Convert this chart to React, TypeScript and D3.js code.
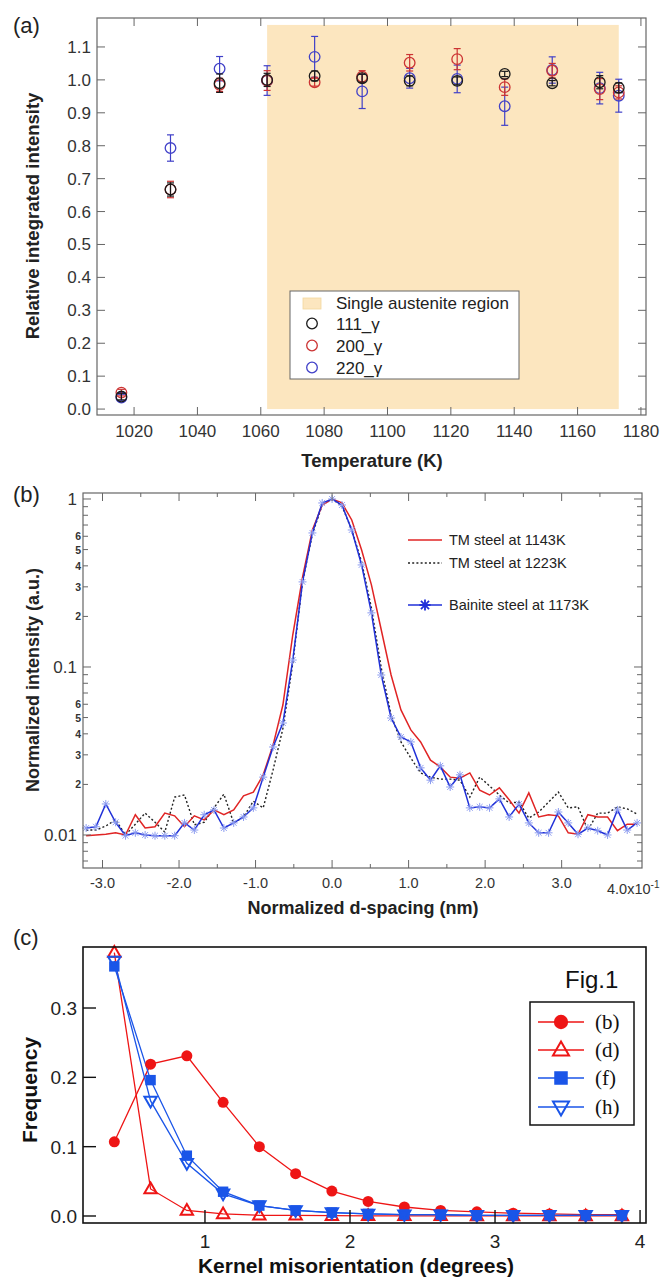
import React from 'react';
import * as d3 from 'd3';

// ---------- Panel (a) data ----------
const temperatures = [1016, 1031.5, 1047, 1062, 1077, 1092, 1107, 1122, 1137, 1152, 1167, 1173];
const int111 = [0.038, 0.667, 0.99, 1.0, 1.012, 1.005, 0.997, 0.997, 1.018, 0.99, 0.993, 0.976];
const err111 = [0.01, 0.02, 0.028, 0.02, 0.015, 0.012, 0.015, 0.012, 0.008, 0.008, 0.02, 0.015];
const int200 = [0.05, 0.667, 0.985, 0.998, 0.993, 1.01, 1.052, 1.063, 0.978, 1.028, 0.972, 0.962];
const err200 = [0.01, 0.025, 0.02, 0.03, 0.012, 0.018, 0.025, 0.032, 0.025, 0.022, 0.032, 0.02];
const int220 = [0.035, 0.793, 1.034, 0.998, 1.07, 0.965, 1.005, 1.003, 0.92, 1.03, 0.975, 0.952];
const err220 = [0.01, 0.04, 0.037, 0.045, 0.062, 0.052, 0.03, 0.042, 0.058, 0.04, 0.048, 0.05];
const austeniteRange = [1062, 1173];
const austeniteTop = 1.167;
const xTicksA = [1020, 1040, 1060, 1080, 1100, 1120, 1140, 1160, 1180];
const yTicksA = [0, 0.1, 0.2, 0.3, 0.4, 0.5, 0.6, 0.7, 0.8, 0.9, 1.0, 1.1];

// ---------- Panel (b) data ----------
const dSpacing = [
  -3.214, -3.086, -2.957, -2.829, -2.7, -2.571, -2.443, -2.314, -2.186, -2.057,
  -1.929, -1.8, -1.671, -1.543, -1.414, -1.286, -1.157, -1.029, -0.9, -0.771,
  -0.643, -0.514, -0.386, -0.257, -0.129, 0,
  0.129, 0.257, 0.386, 0.514, 0.643, 0.771, 0.9, 1.029, 1.157, 1.286,
  1.414, 1.543, 1.671, 1.8, 1.929, 2.057, 2.186, 2.314, 2.443, 2.571,
  2.7, 2.829, 2.957, 3.086, 3.214, 3.343, 3.471, 3.6, 3.729, 3.857, 3.986,
];
const tm1143 = [
  0.0099, 0.01, 0.0101, 0.0103, 0.01, 0.0132, 0.011, 0.0112, 0.0135, 0.013,
  0.0112, 0.013, 0.0123, 0.0141, 0.0132, 0.0141, 0.0171, 0.018, 0.0228, 0.0343,
  0.0594, 0.155, 0.343, 0.654, 0.921, 1.0,
  0.947, 0.75, 0.497, 0.308, 0.166, 0.0896, 0.0555, 0.0422, 0.0358, 0.0279,
  0.0254, 0.0221, 0.0218, 0.0234, 0.0185, 0.0173, 0.0191, 0.0162, 0.0135, 0.0178,
  0.0128, 0.0132, 0.013, 0.0103, 0.0101, 0.0132, 0.0128, 0.0128, 0.0106, 0.0116, 0.0116,
];
const tm1223 = [
  0.0107, 0.0107, 0.0113, 0.0123, 0.01, 0.0116, 0.0135, 0.0119, 0.0104, 0.0168,
  0.0173, 0.0115, 0.0119, 0.0145, 0.0175, 0.0118, 0.0128, 0.0159, 0.0145, 0.0244,
  0.043, 0.105, 0.321, 0.619, 0.921, 1.0,
  0.909, 0.654, 0.422, 0.2245, 0.0986, 0.0518, 0.0358, 0.0287, 0.0234, 0.0221,
  0.0215, 0.0215, 0.0212, 0.0168, 0.0221, 0.0196, 0.0173, 0.0155, 0.0157, 0.0126,
  0.0137, 0.0157, 0.018, 0.0145, 0.0147, 0.0107, 0.0135, 0.0135, 0.0147, 0.0143, 0.0133,
];
const bainite1173 = [
  0.011, 0.0112, 0.0153, 0.0119, 0.0099, 0.0103, 0.01, 0.0099, 0.0099, 0.0099,
  0.0118, 0.0107, 0.0132, 0.0141, 0.011, 0.0118, 0.0128, 0.0145, 0.0221, 0.0334,
  0.0464, 0.11, 0.321, 0.628, 0.947, 1.0,
  0.921, 0.654, 0.405, 0.21, 0.0896, 0.0497, 0.0383, 0.0358, 0.0251, 0.0212,
  0.0258, 0.0193, 0.0228, 0.0145, 0.0147, 0.0145, 0.0164, 0.0128, 0.0153, 0.0118,
  0.0103, 0.0103, 0.0137, 0.0118, 0.0101, 0.011, 0.0106, 0.01, 0.0141, 0.0107, 0.0118,
];
const xMajorB = [-3, -2, -1, 0, 1, 2, 3];
const xMajorLabelsB = ['-3.0', '-2.0', '-1.0', '0.0', '1.0', '2.0', '3.0'];
const xMinorB = [-2.5, -1.5, -0.5, 0.5, 1.5, 2.5, 3.5];
const yMajorB = [0.01, 0.1, 1];
const yMajorLabelsB = ['0.01', '0.1', '1'];
const yMinorB = [0.007, 0.008, 0.009, 0.02, 0.03, 0.04, 0.05, 0.06, 0.07, 0.08, 0.09, 0.2, 0.3, 0.4, 0.5, 0.6, 0.7, 0.8, 0.9];
const yMinorLabeledB = [0.02, 0.03, 0.04, 0.05, 0.06, 0.2, 0.3, 0.4, 0.5, 0.6];
const yMinorLabelTextB = ['2', '3', '4', '5', '6', '2', '3', '4', '5', '6'];

// ---------- Panel (c) data ----------
const kernelMis = [0.375, 0.625, 0.875, 1.125, 1.375, 1.625, 1.875, 2.125, 2.375, 2.625, 2.875, 3.125, 3.375, 3.625, 3.875];
const freqB = [0.107, 0.219, 0.231, 0.164, 0.1, 0.061, 0.036, 0.021, 0.013, 0.008, 0.006, 0.004, 0.003, 0.002, 0.002];
const freqD = [0.38, 0.039, 0.008, 0.003, 0.001, 0.001, 0.0005, 0.0003, 0.0002, 0.0002, 0.0001, 0.0001, 0.0001, 0.0001, 0.0001];
const freqF = [0.36, 0.196, 0.087, 0.035, 0.015, 0.008, 0.005, 0.003, 0.002, 0.002, 0.001, 0.001, 0.001, 0.001, 0.001];
const freqH = [0.368, 0.166, 0.076, 0.032, 0.015, 0.008, 0.005, 0.003, 0.002, 0.002, 0.001, 0.001, 0.001, 0.001, 0.001];
const xTicksC = [1, 2, 3, 4];
const yTicksC = [0, 0.1, 0.2, 0.3];

const SANS = '"Liberation Sans", Arial, Helvetica, sans-serif';
const SERIF = '"Liberation Serif", "Times New Roman", serif';

function PanelA() {
  const L = 97, R = 646, T = 18, B = 415;
  const x = d3.scaleLinear().domain([1008.3, 1181.6]).range([L, R]);
  const y = d3.scaleLinear().domain([-0.018, 1.188]).range([B, T]);
  const series = [
    { v: int220, e: err220, c: '#4040c8' },
    { v: int200, e: err200, c: '#cc3333' },
    { v: int111, e: err111, c: '#1a1a1a' },
  ];
  const fmt = d3.format('.1f');
  const tick = 8;
  const frame = '#666';
  return (
    <g>
      <text x={13} y={33} fontFamily={SANS} fontSize={22} fill="#222">(a)</text>
      <rect x={x(austeniteRange[0])} y={y(austeniteTop)} width={x(austeniteRange[1]) - x(austeniteRange[0])}
        height={y(0) - y(austeniteTop)} fill="#fce6bf" />
      {series.map((s, si) => (
        <g key={si}>
          {temperatures.map((t, i) => {
            const cx = x(t);
            const y1 = y(s.v[i] + s.e[i]);
            const y2 = y(s.v[i] - s.e[i]);
            return (
              <g key={i} stroke={s.c} strokeWidth={1.2} fill="none">
                <line x1={cx} x2={cx} y1={y1} y2={y2} />
                <line x1={cx - 3.5} x2={cx + 3.5} y1={y1} y2={y1} />
                <line x1={cx - 3.5} x2={cx + 3.5} y1={y2} y2={y2} />
                <circle cx={cx} cy={y(s.v[i])} r={5.3} strokeWidth={1.3} />
              </g>
            );
          })}
        </g>
      ))}
      <rect x={L} y={T} width={R - L} height={B - T} fill="none" stroke={frame} strokeWidth={1.2} />
      {xTicksA.map((t) => (
        <g key={t}>
          <line x1={x(t)} x2={x(t)} y1={B} y2={B - tick} stroke={frame} strokeWidth={1} />
          <line x1={x(t)} x2={x(t)} y1={T} y2={T + tick} stroke={frame} strokeWidth={1} />
          <text x={x(t)} y={437} textAnchor="middle" fontFamily={SANS} fontSize={17} fill="#333">{t}</text>
        </g>
      ))}
      {yTicksA.map((t) => (
        <g key={t}>
          <line x1={L} x2={L + tick} y1={y(t)} y2={y(t)} stroke={frame} strokeWidth={1} />
          <line x1={R} x2={R - tick} y1={y(t)} y2={y(t)} stroke={frame} strokeWidth={1} />
          <text x={91} y={y(t) + 6} textAnchor="end" fontFamily={SANS} fontSize={17} fill="#333">{fmt(t)}</text>
        </g>
      ))}
      <text transform={`translate(38.5,216) rotate(-90)`} textAnchor="middle" fontFamily={SANS} fontSize={18.5}
        fontWeight="bold" fill="#222">Relative integrated intensity</text>
      <text x={372} y={467} textAnchor="middle" fontFamily={SANS} fontSize={18.5} fontWeight="bold" fill="#222">Temperature (K)</text>
      {/* legend */}
      <rect x={290} y={291} width={229} height={88} fill="#fff" stroke="#666" strokeWidth={1} />
      <rect x={303} y={298} width={18} height={11} fill="#fce6bf" stroke="#f3d79e" strokeWidth={0.8} />
      <circle cx={312} cy={323.5} r={5.3} fill="none" stroke="#1a1a1a" strokeWidth={1.3} />
      <circle cx={312} cy={345.5} r={5.3} fill="none" stroke="#cc3333" strokeWidth={1.3} />
      <circle cx={312} cy={367.5} r={5.3} fill="none" stroke="#4040c8" strokeWidth={1.3} />
      <g fontFamily={SANS} fontSize={17} fill="#222">
        <text x={336} y={309}>Single austenite region</text>
        <text x={336} y={330}>111_γ</text>
        <text x={336} y={352}>200_γ</text>
        <text x={336} y={374}>220_γ</text>
      </g>
    </g>
  );
}

function PanelB() {
  const L = 83, R = 642, T = 493, B = 868;
  const x = d3.scaleLinear().domain([-3.255, 4.05]).range([L, R]);
  const y = d3.scaleLog().domain([0.00636, 1.0857]).range([B, T]);
  const line = (vals: number[]) =>
    d3.line<number>().x((_, i) => x(dSpacing[i])).y((v) => y(v))(vals) || '';
  const frame = '#666';
  const star = 'M-4,0H4M0,-4V4M-2.9,-2.9L2.9,2.9M-2.9,2.9L2.9,-2.9';
  return (
    <g>
      <text x={13} y={502} fontFamily={SANS} fontSize={22} fill="#222">(b)</text>
      <path d={line(tm1223)} fill="none" stroke="#222" strokeWidth={1.4} strokeDasharray="2,2.2" />
      <path d={line(tm1143)} fill="none" stroke="#e02424" strokeWidth={1.5} />
      <path d={line(bainite1173)} fill="none" stroke="#2030d8" strokeWidth={1.5} />
      {bainite1173.map((v, i) => (
        <path key={i} d={star} transform={`translate(${x(dSpacing[i])},${y(v)})`} stroke="#8c9cf0" strokeWidth={1} fill="none" />
      ))}
      <rect x={L} y={T} width={R - L} height={B - T} fill="none" stroke={frame} strokeWidth={1.2} />
      {xMajorB.map((t, i) => (
        <g key={t}>
          <line x1={x(t)} x2={x(t)} y1={B} y2={B - 8} stroke={frame} />
          <line x1={x(t)} x2={x(t)} y1={T} y2={T + 8} stroke={frame} />
          <text x={x(t)} y={888} textAnchor="middle" fontFamily={SANS} fontSize={14.5} fill="#333">{xMajorLabelsB[i]}</text>
        </g>
      ))}
      {xMinorB.map((t) => (
        <g key={t}>
          <line x1={x(t)} x2={x(t)} y1={B} y2={B - 4} stroke={frame} />
          <line x1={x(t)} x2={x(t)} y1={T} y2={T + 4} stroke={frame} />
        </g>
      ))}
      <text x={607} y={894} fontFamily={SANS} fontSize={14.5} fill="#333">4.0x10<tspan dy={-6} fontSize={10}>-1</tspan></text>
      {yMajorB.map((t, i) => (
        <g key={t}>
          <line x1={L} x2={L + 8} y1={y(t)} y2={y(t)} stroke={frame} />
          <line x1={R} x2={R - 8} y1={y(t)} y2={y(t)} stroke={frame} />
          <text x={77} y={y(t) + 6} textAnchor="end" fontFamily={SANS} fontSize={17} fill="#333">{yMajorLabelsB[i]}</text>
        </g>
      ))}
      {yMinorB.map((t) => (
        <g key={t}>
          <line x1={L} x2={L + 5} y1={y(t)} y2={y(t)} stroke={frame} />
          <line x1={R} x2={R - 5} y1={y(t)} y2={y(t)} stroke={frame} />
        </g>
      ))}
      {yMinorLabeledB.map((t, i) => (
        <text key={t} x={81} y={y(t) + 4} textAnchor="end" fontFamily={SANS} fontSize={10.5} fontWeight="bold" fill="#333">{yMinorLabelTextB[i]}</text>
      ))}
      <text transform={`translate(39,680) rotate(-90)`} textAnchor="middle" fontFamily={SANS} fontSize={18}
        fontWeight="bold" fill="#222">Normalized intensity (a.u.)</text>
      <text x={363} y={914} textAnchor="middle" fontFamily={SANS} fontSize={18} fontWeight="bold" fill="#222">Normalized d-spacing (nm)</text>
      {/* legend */}
      <line x1={408} x2={442} y1={540} y2={540} stroke="#e02424" strokeWidth={1.5} />
      <line x1={408} x2={442} y1={563} y2={563} stroke="#222" strokeWidth={1.4} strokeDasharray="2,2.2" />
      <line x1={408} x2={442} y1={605} y2={605} stroke="#2030d8" strokeWidth={1.5} />
      <path d={star} transform="translate(425,605) scale(1.4)" stroke="#2030d8" strokeWidth={1.3} fill="none" />
      <g fontFamily={SANS} fontSize={14.5} fill="#222">
        <text x={449} y={545}>TM steel at 1143K</text>
        <text x={449} y={568}>TM steel at 1223K</text>
        <text x={449} y={610}>Bainite steel at 1173K</text>
      </g>
    </g>
  );
}

function Marker({ kind, cx, cy, s = 1 }: { kind: string; cx: number; cy: number; s?: number }) {
  const red = '#ee1515';
  const blue = '#1a55e8';
  if (kind === 'b') return <circle cx={cx} cy={cy} r={5.5 * s} fill={red} />;
  if (kind === 'd') {
    const h = 6.5 * s;
    return <path d={`M${cx},${cy - h}L${cx + h * 0.95},${cy + h * 0.65}L${cx - h * 0.95},${cy + h * 0.65}Z`} fill="none" stroke={red} strokeWidth={2} />;
  }
  if (kind === 'f') {
    const h = 5.2 * s;
    return <rect x={cx - h} y={cy - h} width={2 * h} height={2 * h} fill={blue} />;
  }
  const h = 6.5 * s;
  return <path d={`M${cx},${cy + h}L${cx + h * 0.95},${cy - h * 0.65}L${cx - h * 0.95},${cy - h * 0.65}Z`} fill="none" stroke={blue} strokeWidth={2} />;
}

function PanelC() {
  const L = 83, R = 646, T = 947, B = 1223;
  const x = d3.scaleLinear().domain([0.159, 4.041]).range([L, R]);
  const y = d3.scaleLinear().domain([-0.0101, 0.388]).range([B, T]);
  const line = (vals: number[]) =>
    d3.line<number>().x((_, i) => x(kernelMis[i])).y((v) => y(v))(vals) || '';
  const red = '#ee1515';
  const blue = '#1a55e8';
  const series = [
    { k: 'b', v: freqB, c: red },
    { k: 'd', v: freqD, c: red },
    { k: 'f', v: freqF, c: blue },
    { k: 'h', v: freqH, c: blue },
  ];
  const fmt = d3.format('.1f');
  const legendY = [1022, 1050, 1078, 1107];
  return (
    <g>
      <text x={13} y={945} fontFamily={SANS} fontSize={22} fill="#222">(c)</text>
      {series.map((s) => (
        <path key={s.k} d={line(s.v)} fill="none" stroke={s.c} strokeWidth={1.3} />
      ))}
      {series.map((s) => (
        <g key={s.k}>
          {s.v.map((v, i) => (
            <Marker key={i} kind={s.k} cx={x(kernelMis[i])} cy={y(v)} />
          ))}
        </g>
      ))}
      <rect x={L} y={T} width={R - L} height={B - T} fill="none" stroke="#111" strokeWidth={1.6} />
      {xTicksC.map((t) => (
        <g key={t}>
          <line x1={x(t)} x2={x(t)} y1={B} y2={B - 13} stroke="#111" strokeWidth={1.4} />
          <text x={x(t)} y={1248} textAnchor="middle" fontFamily={SANS} fontSize={19} fill="#222">{t}</text>
        </g>
      ))}
      {yTicksC.map((t) => (
        <g key={t}>
          <line x1={L} x2={L + 13} y1={y(t)} y2={y(t)} stroke="#111" strokeWidth={1.4} />
          <text x={77} y={y(t) + 7} textAnchor="end" fontFamily={SANS} fontSize={19} fill="#222">{fmt(t)}</text>
        </g>
      ))}
      <text transform={`translate(37,1090) rotate(-90)`} textAnchor="middle" fontFamily={SANS} fontSize={21}
        fontWeight="bold" fill="#111">Frequency</text>
      <text x={356} y={1273} textAnchor="middle" fontFamily={SANS} fontSize={21} fontWeight="bold" fill="#111">Kernel misorientation (degrees)</text>
      <text x={565} y={988} fontFamily={SANS} fontSize={24} fill="#111">Fig.1</text>
      <rect x={530} y={1002} width={104} height={123} fill="#fff" stroke="#111" strokeWidth={1.5} />
      {series.map((s, i) => (
        <g key={s.k}>
          <line x1={538} x2={584} y1={legendY[i]} y2={legendY[i]} stroke={s.c} strokeWidth={1.3} />
          <Marker kind={s.k} cx={561} cy={legendY[i]} s={1.3} />
          <text x={595} y={legendY[i] + 7} fontFamily={SERIF} fontSize={21} fill="#111">({s.k})</text>
        </g>
      ))}
    </g>
  );
}

export default function App() {
  return (
    <svg width={664} height={1280} viewBox="0 0 664 1280"
      style={{ position: 'absolute', left: 0, top: 0, background: '#fff' }}>
      <rect x={0} y={0} width={664} height={1280} fill="#fff" />
      <PanelA />
      <PanelB />
      <PanelC />
    </svg>
  );
}
